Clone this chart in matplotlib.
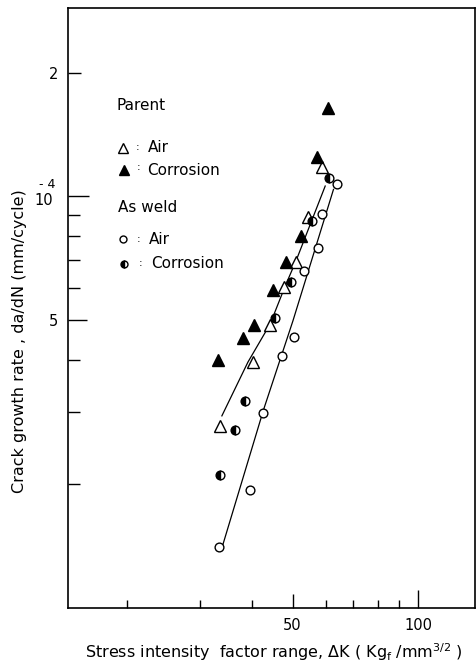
import matplotlib
matplotlib.use("Agg")
import matplotlib.pyplot as plt
from matplotlib.ticker import NullFormatter

# stress intensity factor range dK (Kgf/mm^3/2) vs crack growth rate da/dN (mm/cycle)
parent_air_dk = [58.8, 54.6, 50.9, 47.8, 44.2, 40.1, 33.5]
parent_air_rate = [1.18e-4, 8.89e-5, 6.93e-5, 6.04e-5, 4.86e-5, 3.95e-5, 2.77e-5]

parent_corr_dk = [60.7, 57.2, 52.5, 48.3, 44.8, 40.5, 38.1, 33.2]
parent_corr_rate = [1.64e-4, 1.25e-4, 8.0e-5, 6.93e-5, 5.93e-5, 4.86e-5, 4.53e-5, 4.01e-5]

weld_air_dk = [64.1, 59.0, 57.7, 53.3, 50.5, 47.2, 42.4, 39.6, 33.4]
weld_air_rate = [1.07e-4, 9.04e-5, 7.50e-5, 6.58e-5, 4.55e-5, 4.10e-5, 2.98e-5, 1.93e-5, 1.41e-5]

weld_corr_dk = [61.0, 55.7, 49.6, 45.5, 38.5, 36.3, 33.5]
weld_corr_rate = [1.11e-4, 8.74e-5, 6.19e-5, 5.07e-5, 3.18e-5, 2.71e-5, 2.11e-5]

# hand drawn trend lines
parent_fit_dk = [33.85, 39.1, 44.2, 48.0, 51.0, 59.9]
parent_fit_rate = [2.93e-5, 3.96e-5, 4.9e-5, 6.05e-5, 6.98e-5, 1.06e-4]
weld_fit_dk = [34.0, 42.6, 50.1, 62.7]
weld_fit_rate = [1.42e-5, 3.03e-5, 4.98e-5, 1.04e-4]

x_major = [50, 100]
x_major_labels = ["50", "100"]
x_minor = [20, 30, 40, 60, 70, 80, 90]
y_major = [5e-5, 1e-4, 2e-4]
y_major_labels = ["5", "", "2"]
y_minor = [2e-5, 3e-5, 4e-5, 6e-5, 7e-5, 8e-5, 9e-5]

W, H = 477, 667
plt.rcParams["font.family"] = ["DejaVu Sans"]

fig = plt.figure(figsize=(W / 100, H / 100), dpi=100)
L, R, T, B = 68, 475, 8, 608
ax = fig.add_axes([L / W, 1 - B / H, (R - L) / W, (B - T) / H])

ax.set_xscale("log")
ax.set_yscale("log")
ax.set_xlim(14.47, 137)
ax.set_ylim(1.0e-5, 2.87e-4)

lw = 0.9
ax.plot(parent_fit_dk, parent_fit_rate, color="black", lw=lw)
ax.plot(weld_fit_dk, weld_fit_rate, color="black", lw=lw)

ax.plot(parent_air_dk, parent_air_rate, ls="none", marker="^", ms=8,
        mfc="white", mec="black", mew=1.0)
ax.plot(parent_corr_dk, parent_corr_rate, ls="none", marker="^", ms=8,
        mfc="black", mec="black", mew=1.0)
ax.plot(weld_air_dk, weld_air_rate, ls="none", marker="o", ms=6.3,
        mfc="white", mec="black", mew=1.0)
ax.plot(weld_corr_dk, weld_corr_rate, ls="none", marker="o", ms=6.3,
        fillstyle="left", mfc="black", mfcalt="white", mec="black", mew=1.0)

# ticks
ax.set_xticks(x_major, x_major_labels)
ax.set_xticks(x_minor, minor=True)
ax.xaxis.set_minor_formatter(NullFormatter())
ax.set_yticks(y_major, y_major_labels)
ax.set_yticks(y_minor, minor=True)
ax.yaxis.set_minor_formatter(NullFormatter())

ax.tick_params(axis="both", which="both", direction="in", width=1.0, labelsize=10.5)
ax.tick_params(axis="x", which="major", length=11, pad=7)
ax.tick_params(axis="x", which="minor", length=6)
ax.tick_params(axis="y", which="major", length=9, pad=7)
ax.tick_params(axis="y", which="minor", length=8.5)
xt = ax.xaxis.get_major_ticks()
xt[0].tick1line.set_markersize(10)
xt[1].tick1line.set_markersize(13)
yt = ax.yaxis.get_major_ticks()
yt[0].tick1line.set_markersize(13.5)
yt[1].tick1line.set_markersize(15)

for s in ax.spines.values():
    s.set_linewidth(1.2)

# 10^-4 beside the long tick
fig.text(53 / W, 1 - 200 / H, "10", ha="right", va="center", fontsize=10.5)
fig.text(55 / W, 1 - 184 / H, "- 4", ha="right", va="center", fontsize=9)

# legend written into the plot
def fx(x):
    return (x - L) / (R - L)

def fy(y):
    return (B - y) / (B - T)

ts = 11
ax.text(fx(117), fy(106), "Parent", transform=ax.transAxes, fontsize=ts, va="center")
ax.plot([fx(123)], [fy(148)], transform=ax.transAxes, marker="^", ms=7,
        mfc="white", mec="black", mew=1.0, clip_on=False)
ax.text(fx(136), fy(147), ":", transform=ax.transAxes, fontsize=8, va="center")
ax.text(fx(148), fy(147), "Air", transform=ax.transAxes, fontsize=ts, va="center")
ax.plot([fx(124)], [fy(170)], transform=ax.transAxes, marker="^", ms=7,
        mfc="black", mec="black", mew=1.0, clip_on=False)
ax.text(fx(137), fy(167), ":", transform=ax.transAxes, fontsize=8, va="center")
ax.text(fx(147), fy(170.5), "Corrosion", transform=ax.transAxes, fontsize=ts, va="center")

ax.text(fx(118), fy(207), "As weld", transform=ax.transAxes, fontsize=ts, va="center")
ax.plot([fx(123)], [fy(239)], transform=ax.transAxes, marker="o", ms=5,
        mfc="white", mec="black", mew=1.0, clip_on=False)
ax.text(fx(137), fy(239), ":", transform=ax.transAxes, fontsize=8, va="center")
ax.text(fx(149), fy(239), "Air", transform=ax.transAxes, fontsize=ts, va="center")
ax.plot([fx(124)], [fy(263.5)], transform=ax.transAxes, marker="o", ms=5,
        fillstyle="left", mfc="black", mfcalt="white", mec="black", mew=1.0,
        clip_on=False)
ax.text(fx(139), fy(263.5), ":", transform=ax.transAxes, fontsize=8, va="center")
ax.text(fx(151), fy(263.5), "Corrosion", transform=ax.transAxes, fontsize=ts, va="center")

# axis labels
fig.text(20 / W, 1 - 341 / H, "Crack growth rate , da/dN (mm/cycle)",
         rotation=90, ha="center", va="center", fontsize=11.5)
fig.text(85 / W, 1 - 652 / H,
         r"Stress intensity  factor range, $\Delta$K ( Kg$_\mathrm{f}$ /mm$^{3/2}$ )",
         ha="left", va="center", fontsize=11.5)

fig.savefig("out.png", dpi=100)
